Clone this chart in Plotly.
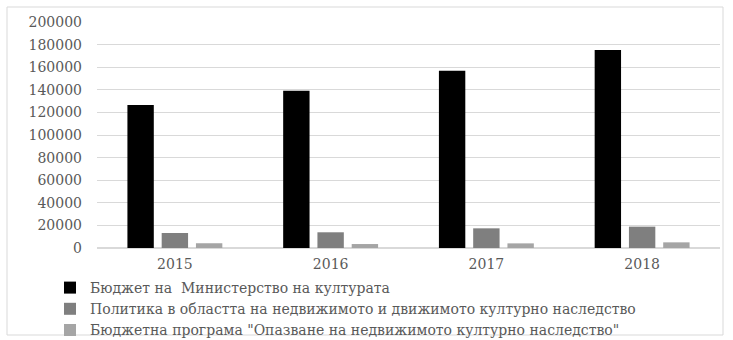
import plotly.graph_objects as go

years = ["2015", "2016", "2017", "2018"]
series_names = [
    "Бюджет на  Министерство на културата",
    "Политика в областта на недвижимото и движимото културно наследство",
    "Бюджетна програма \"Опазване на недвижимото културно наследство\"",
]
ministry_budget = [126500, 139200, 156900, 175200]
heritage_policy = [13300, 13900, 17400, 18900]
protection_program = [4200, 3500, 4100, 5000]
y_ticks = [0, 20000, 40000, 60000, 80000, 100000, 120000, 140000, 160000, 180000, 200000]

colors = ["#000000", "#7f7f7f", "#a5a5a5"]
W, H = 733, 340
L, R, T, B = 97, 13, 22, 92
pw, ph = W - L - R, H - T - B

fig = go.Figure()
for name, vals, c in zip(series_names, [ministry_budget, heritage_policy, protection_program], colors):
    fig.add_trace(go.Bar(x=years, y=vals, name=name, marker=dict(color=c, line=dict(width=0))))

font_family = "DejaVu Serif"
fig.update_layout(
    width=W, height=H,
    margin=dict(l=L, r=R, t=T, b=B, pad=0, autoexpand=False),
    paper_bgcolor="white", plot_bgcolor="white",
    barmode="group", bargap=0.34, bargroupgap=0.23,
    font=dict(family=font_family, size=13, color="#595959"),
    xaxis=dict(showgrid=False, showline=False, ticks="", ticklabelstandoff=6,
               tickfont=dict(size=14, color="#595959")),
    yaxis=dict(range=[0, 200000], tickvals=y_ticks, ticktext=[str(v) for v in y_ticks],
               showgrid=True, gridcolor="#d9d9d9", gridwidth=1, zeroline=True, zerolinecolor="#d9d9d9",
               showline=False, ticks="", ticklabelstandoff=14, tickfont=dict(size=14, color="#595959")),
    legend=dict(orientation="v", xref="container", yref="container",
                x=50 / W, xanchor="left", y=1 - 272 / H, yanchor="top",
                font=dict(size=14, color="#595959"), bgcolor="rgba(0,0,0,0)", tracegroupgap=0,
                itemwidth=30),
    showlegend=True,
    shapes=[dict(type="rect", xref="paper", yref="paper",
                 x0=(7 - L) / pw, x1=(723 - L) / pw, y0=(T + ph - 335) / ph, y1=(T + ph - 7) / ph,
                 line=dict(color="#d9d9d9", width=1), layer="below")],
)
fig.write_html("out.html")
